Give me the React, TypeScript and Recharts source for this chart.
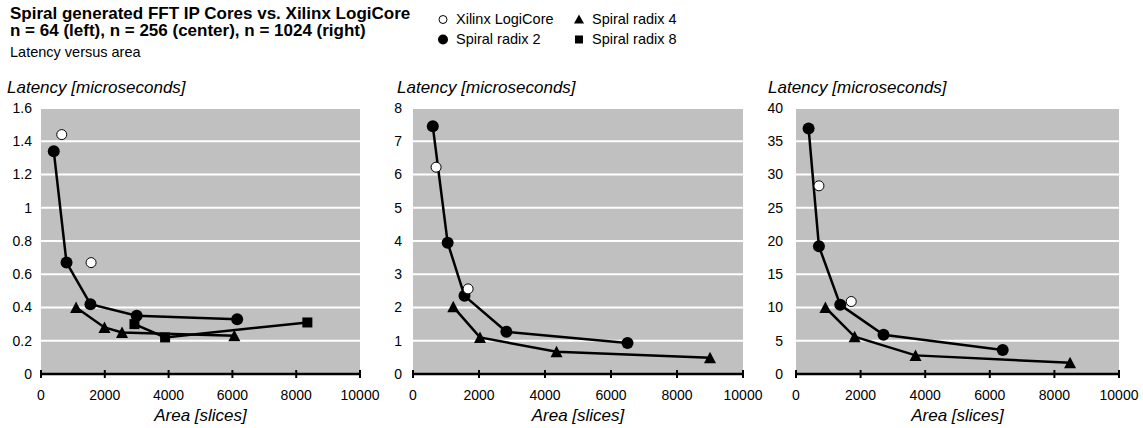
import React from 'react';
import { ScatterChart, Scatter, XAxis, YAxis, CartesianGrid, Label } from 'recharts';

// ---------- data ----------
const xTicks = [0, 2000, 4000, 6000, 8000, 10000];
const yTicks64 = [0, 0.2, 0.4, 0.6, 0.8, 1, 1.2, 1.4, 1.6];
const yTicks256 = [0, 1, 2, 3, 4, 5, 6, 7, 8];
const yTicks1024 = [0, 5, 10, 15, 20, 25, 30, 35, 40];

const xilinx64 = [{ x: 650, y: 1.44 }, { x: 1570, y: 0.67 }];
const radix2_64 = [{ x: 400, y: 1.34 }, { x: 800, y: 0.67 }, { x: 1550, y: 0.42 }, { x: 3000, y: 0.35 }, { x: 6150, y: 0.33 }];
const radix4_64 = [{ x: 1100, y: 0.4 }, { x: 1990, y: 0.28 }, { x: 2540, y: 0.25 }, { x: 6060, y: 0.23 }];
const radix8_64 = [{ x: 2930, y: 0.3 }, { x: 3890, y: 0.22 }, { x: 8350, y: 0.31 }];

const xilinx256 = [{ x: 700, y: 6.22 }, { x: 1670, y: 2.56 }];
const radix2_256 = [{ x: 600, y: 7.45 }, { x: 1050, y: 3.95 }, { x: 1560, y: 2.35 }, { x: 2830, y: 1.27 }, { x: 6500, y: 0.93 }];
const radix4_256 = [{ x: 1220, y: 2.02 }, { x: 2030, y: 1.1 }, { x: 4350, y: 0.67 }, { x: 9000, y: 0.49 }];

const xilinx1024 = [{ x: 710, y: 28.3 }, { x: 1710, y: 10.9 }];
const radix2_1024 = [{ x: 390, y: 36.9 }, { x: 710, y: 19.2 }, { x: 1370, y: 10.4 }, { x: 2710, y: 5.9 }, { x: 6400, y: 3.6 }];
const radix4_1024 = [{ x: 910, y: 10.0 }, { x: 1815, y: 5.6 }, { x: 3700, y: 2.8 }, { x: 8485, y: 1.7 }];

const titleLines = ['Spiral generated FFT IP Cores vs. Xilinx LogiCore', 'n = 64 (left), n = 256 (center), n = 1024 (right)'];
const subtitle = 'Latency versus area';
const yLabel = 'Latency [microseconds]';
const xLabel = 'Area [slices]';
const legendNames = ['Xilinx LogiCore', 'Spiral radix 2', 'Spiral radix 4', 'Spiral radix 8'];

// ---------- shapes ----------
const OpenCircle = (p: any) => <circle cx={p.cx} cy={p.cy} r={5} fill="#fff" stroke="#000" strokeWidth={1} />;
const Dot = (p: any) => <circle cx={p.cx} cy={p.cy} r={6} fill="#000" />;
const Tri = (p: any) => {
  const s = 12;
  const h = 11;
  return <polygon points={`${p.cx},${p.cy - h / 2 - 0.5} ${p.cx - s / 2},${p.cy + h / 2} ${p.cx + s / 2},${p.cy + h / 2}`} fill="#000" />;
};
const Sq = (p: any) => <rect x={p.cx - 5} y={p.cy - 5} width={10} height={10} fill="#000" />;

const XTick = (props: any) => {
  const { x, y, payload } = props;
  return (
    <g>
      <line x1={x} x2={x} y1={y - 4} y2={y + 4} stroke="#000" strokeWidth={2} />
      <text x={x} y={y + 21} textAnchor="middle" dominantBaseline="central" fontSize={14} fill="#000">
        {payload.value}
      </text>
    </g>
  );
};

const lineStyle = { stroke: '#000', strokeWidth: 2.5 };

type Panel = {
  left: number;
  width: number;
  yWidth: number;
  marginRight: number;
  yGap: number;
  yMax: number;
  yTicks: number[];
  labelX: number;
  xilinx: { x: number; y: number }[];
  r2: { x: number; y: number }[];
  r4: { x: number; y: number }[];
  r8?: { x: number; y: number }[];
};

const panels: Panel[] = [
  { left: 0, width: 385, yWidth: 41, marginRight: 25, yGap: 9, yMax: 1.6, yTicks: yTicks64, labelX: 7, xilinx: xilinx64, r2: radix2_64, r4: radix4_64, r8: radix8_64 },
  { left: 370, width: 400, yWidth: 43, marginRight: 27, yGap: 11, yMax: 8, yTicks: yTicks256, labelX: 397, xilinx: xilinx256, r2: radix2_256, r4: radix4_256 },
  { left: 752, width: 391, yWidth: 44, marginRight: 24, yGap: 13, yMax: 40, yTicks: yTicks1024, labelX: 768, xilinx: xilinx1024, r2: radix2_1024, r4: radix4_1024 },
];

function ChartPanel({ p }: { p: Panel }) {
  return (
    <div style={{ position: 'absolute', left: p.left, top: 90 }}>
      <ScatterChart width={p.width} height={338} margin={{ top: 18, right: p.marginRight, bottom: 0, left: 0 }}>
        <CartesianGrid horizontal vertical={false} stroke="#fff" strokeWidth={2} fill="#C0C0C0" fillOpacity={1} />
        <XAxis
          type="number"
          dataKey="x"
          domain={[0, 10000]}
          ticks={xTicks}
          height={54}
          tickSize={0}
          tickMargin={0}
          tickLine={false}
          tick={<XTick />}
          axisLine={{ stroke: '#000', strokeWidth: 2.5 }}
          interval={0}
        >
          <Label value={xLabel} position="insideBottom" offset={7} style={{ fontStyle: 'italic', fontSize: 17, fill: '#000' }} />
        </XAxis>
        <YAxis
          type="number"
          dataKey="y"
          domain={[0, p.yMax]}
          ticks={p.yTicks}
          width={p.yWidth}
          axisLine={false}
          tickLine={false}
          tickSize={0}
          tickMargin={p.yGap}
          interval={0}
          tick={{ fontSize: 14, fill: '#000' }}
        />
        <Scatter data={p.r2} line={lineStyle} lineType="joint" shape={Dot} isAnimationActive={false} />
        <Scatter data={p.r4} line={lineStyle} lineType="joint" shape={Tri} isAnimationActive={false} />
        {p.r8 ? <Scatter data={p.r8} line={lineStyle} lineType="joint" shape={Sq} isAnimationActive={false} /> : null}
        <Scatter data={p.xilinx} shape={OpenCircle} isAnimationActive={false} />
      </ScatterChart>
    </div>
  );
}

const LegendItem = ({ x, y, kind, text }: { x: number; y: number; kind: number; text: string }) => (
  <div style={{ position: 'absolute', left: x - 7, top: y - 8.5, height: 17, lineHeight: '17px', fontSize: 14.5, whiteSpace: 'nowrap' }}>
    <svg width={14} height={17} style={{ position: 'absolute', left: 0, top: 0 }}>
      {kind === 0 && <circle cx={7} cy={8.5} r={4} fill="#fff" stroke="#000" strokeWidth={1} />}
      {kind === 1 && <circle cx={7} cy={8.5} r={5} fill="#000" />}
      {kind === 2 && <polygon points="7,3.5 2,12.5 12,12.5" fill="#000" />}
      {kind === 3 && <rect x={3} y={4.5} width={8} height={8} fill="#000" />}
    </svg>
    <span style={{ position: 'absolute', left: 20, top: 0 }}>{text}</span>
  </div>
);

export default function App() {
  return (
    <div
      style={{
        position: 'absolute',
        left: 0,
        top: 0,
        width: 1143,
        height: 428,
        background: '#fff',
        fontFamily: '"Liberation Sans", Arial, sans-serif',
        color: '#000',
        overflow: 'hidden',
      }}
    >
      {titleLines.map((t, i) => (
        <div key={i} style={{ position: 'absolute', left: 10, top: 5 + i * 17, height: 17, lineHeight: '17px', fontSize: 17, fontWeight: 'bold', whiteSpace: 'nowrap' }}>
          {t}
        </div>
      ))}
      <div style={{ position: 'absolute', left: 10, top: 44, height: 17, lineHeight: '17px', fontSize: 14.5, whiteSpace: 'nowrap' }}>{subtitle}</div>

      <LegendItem x={443} y={19} kind={0} text={legendNames[0]} />
      <LegendItem x={443} y={39} kind={1} text={legendNames[1]} />
      <LegendItem x={579} y={19} kind={2} text={legendNames[2]} />
      <LegendItem x={579} y={39} kind={3} text={legendNames[3]} />

      {panels.map((p, i) => (
        <div key={'l' + i} style={{ position: 'absolute', left: p.labelX, top: 78, height: 19, lineHeight: '19px', fontSize: 17, fontStyle: 'italic', whiteSpace: 'nowrap' }}>
          {yLabel}
        </div>
      ))}

      {panels.map((p, i) => (
        <ChartPanel key={i} p={p} />
      ))}
    </div>
  );
}
